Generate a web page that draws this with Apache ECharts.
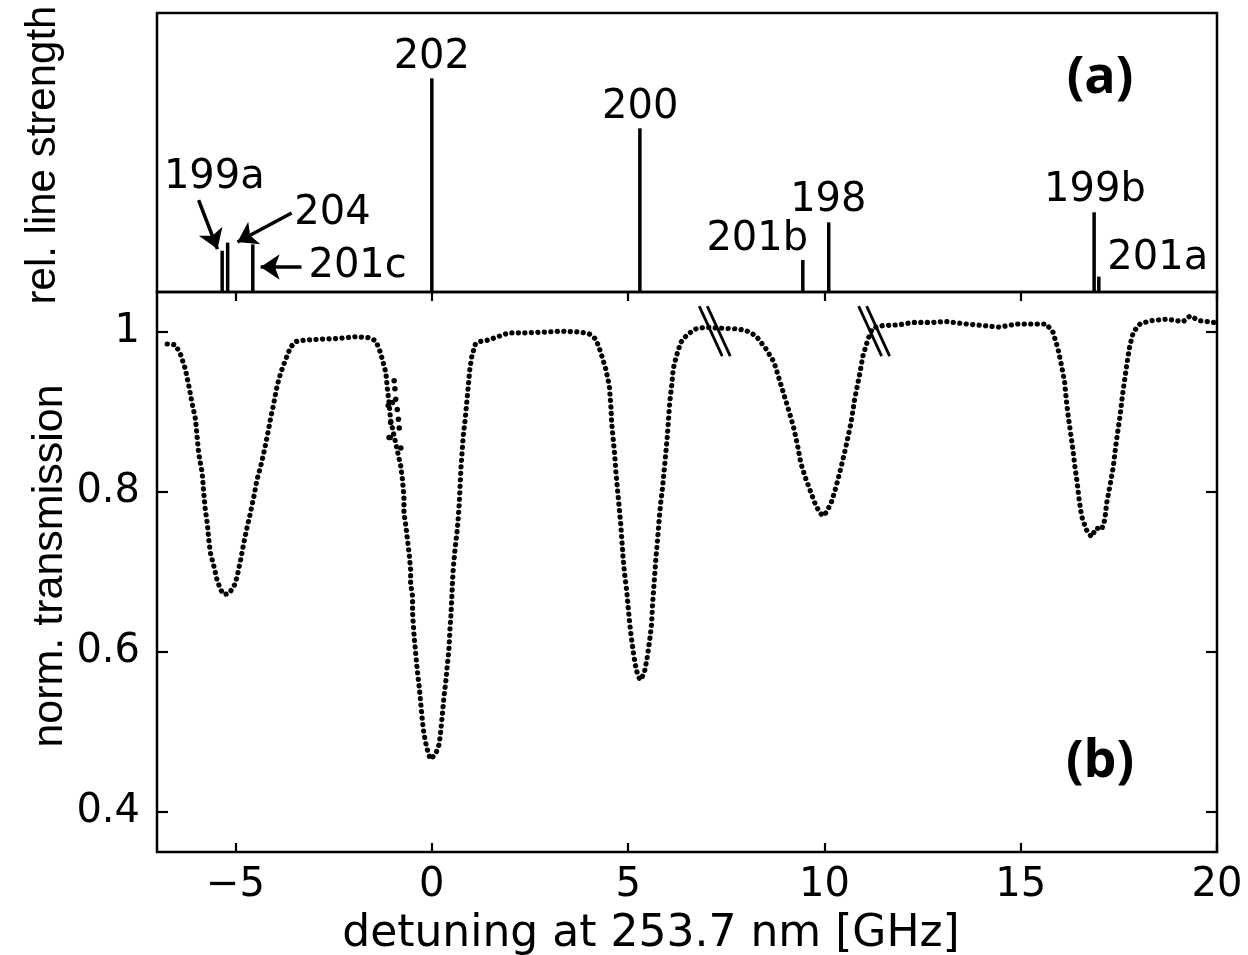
<!DOCTYPE html>
<html>
<head>
<meta charset="utf-8">
<script src="https://cdn.jsdelivr.net/npm/echarts@6/dist/echarts.min.js"></script>
<style>
html,body{margin:0;padding:0;background:#fff;}
#c{width:1248px;height:955px;}
</style>
</head>
<body>
<div id="c"></div>
<script>
// ---- panel (a): isotope line positions and relative strengths ----
const isotopes     = ['199a','204','201c','202','200','201b','198','199b','201a'];
const lineShift    = [-5.34, -5.20, -4.56, 0.00, 5.30, 9.45, 10.11, 16.87, 16.99];
const lineStrength = [0.193, 0.231, 0.223, 1.000, 0.766, 0.150, 0.326, 0.373, 0.072];

// ---- panel (b): normalized transmission vs detuning (GHz) ----
const transX = [
-6.74,-6.53,-6.40,-6.28,-6.19,-6.11,-6.02,-5.98,-5.94,-5.85,-5.81,-5.77,-5.72,-5.68,-5.64,-5.55,-5.47,-5.38,-5.30,-5.17,
-5.04,-4.96,-4.87,-4.79,-4.70,-4.62,-4.53,-4.45,-4.36,-4.28,-4.19,-4.11,-4.02,-3.94,-3.85,-3.72,-3.60,-3.47,-3.21,-2.79,
-2.37,-1.94,-1.60,-1.43,-1.34,-1.26,-1.17,-1.13,-1.09,-1.05,-0.79,-0.75,-0.71,-0.71,-0.66,-0.62,-0.58,-0.54,-0.54,-0.49,
-0.49,-0.45,-0.41,-0.37,-0.32,-0.28,-0.24,-0.20,-0.15,-0.09,-0.03,0.10,0.19,0.23,0.27,0.31,0.36,0.40,0.44,0.46,
0.49,0.51,0.53,0.55,0.59,0.64,0.67,0.70,0.72,0.74,0.77,0.80,0.85,0.89,0.93,0.97,1.02,1.11,1.21,1.37,
1.62,1.96,2.47,2.90,3.32,3.75,4.00,4.18,4.30,4.43,4.52,4.56,4.58,4.62,4.66,4.69,4.73,4.77,4.81,4.84,
4.87,4.91,4.96,5.00,5.04,5.09,5.15,5.21,5.30,5.41,5.49,5.55,5.60,5.62,5.65,5.68,5.71,5.75,5.79,5.83,
5.88,5.92,5.96,6.00,6.03,6.06,6.11,6.15,6.23,6.34,6.51,6.73,6.98,7.24,7.75,8.00,8.26,8.51,8.72,8.85,
8.98,9.11,9.23,9.32,9.40,9.53,9.66,9.79,9.95,10.04,10.17,10.30,10.43,10.55,10.68,10.77,10.89,10.98,11.11,11.23,
11.49,11.91,12.25,12.76,13.10,13.61,14.04,14.46,14.89,15.31,15.65,15.82,15.95,16.04,16.12,16.16,16.21,16.27,16.33,16.38,
16.44,16.49,16.55,16.67,16.80,16.93,17.06,17.14,17.19,17.27,17.36,17.42,17.48,17.54,17.59,17.65,17.71,17.78,17.87,18.04,
18.29,18.72,19.14,19.31,19.57,19.91,19.98
];
const transY = [
0.985,0.984,0.972,0.954,0.933,0.912,0.891,0.870,0.849,0.824,0.799,0.778,0.761,0.740,0.724,0.707,0.690,0.678,0.672,0.673,
0.682,0.694,0.715,0.736,0.757,0.774,0.795,0.816,0.832,0.849,0.870,0.891,0.912,0.933,0.949,0.966,0.981,0.988,0.990,0.991,
0.992,0.994,0.993,0.989,0.979,0.966,0.949,0.928,0.912,0.890,0.832,0.816,0.795,0.774,0.757,0.740,0.724,0.703,0.686,0.669,
0.648,0.619,0.598,0.577,0.556,0.535,0.514,0.498,0.485,0.473,0.466,0.473,0.485,0.502,0.523,0.544,0.565,0.586,0.606,0.627,
0.648,0.669,0.690,0.707,0.728,0.749,0.765,0.786,0.807,0.828,0.849,0.870,0.891,0.912,0.933,0.954,0.970,0.985,0.988,0.989,
0.993,0.999,0.999,1.000,1.001,1.000,0.998,0.991,0.975,0.954,0.933,0.908,0.887,0.866,0.845,0.824,0.803,0.782,0.761,0.740,
0.719,0.698,0.678,0.657,0.636,0.615,0.594,0.577,0.565,0.573,0.594,0.615,0.636,0.657,0.678,0.698,0.719,0.740,0.765,0.786,
0.807,0.828,0.849,0.870,0.891,0.912,0.933,0.954,0.970,0.987,0.997,1.004,1.006,1.005,1.004,1.002,0.995,0.979,0.962,0.941,
0.920,0.899,0.878,0.857,0.836,0.816,0.799,0.782,0.770,0.774,0.786,0.807,0.832,0.857,0.887,0.916,0.945,0.970,0.991,1.005,
1.008,1.009,1.012,1.012,1.013,1.010,1.008,1.006,1.010,1.010,1.010,1.000,0.979,0.958,0.937,0.916,0.895,0.874,0.853,0.832,
0.811,0.790,0.770,0.753,0.744,0.755,0.753,0.765,0.786,0.807,0.832,0.857,0.878,0.899,0.920,0.941,0.962,0.983,1.000,1.010,
1.014,1.016,1.013,1.020,1.014,1.012,1.012
];
// scattered off-branch points on the left flank of the 202 dip
const strayX = [-1.11,-1.09,-1.06,-1.05,-1.00,-0.96,-0.94,-0.92,-0.88,-0.85,-0.83,-0.79];
const strayY = [0.908,0.868,0.868,0.887,0.912,0.939,0.929,0.916,0.903,0.891,0.880,0.855];

// axis ticks
const xTicks = [-5, 0, 5, 10, 15, 20];
const yTicks = [0.4, 0.6, 0.8, 1];
// break marks on the transmission curve
const breakX = [7.27, 11.33];
const breakY = [1.001, 1.001];

// ---- annotation layout (panel a, in data units) ----
const labelAnchor = {
  '199a':[-5.54,0.533], '204':[-2.53,0.365], '201c':[-1.89,0.117], '202':[0,1.095],
  '200':[5.31,0.863], '201b':[8.29,0.243], '198':[10.10,0.426], '199b':[16.89,0.473], '201a':[18.49,0.154]
};
const arrows = [
  [[-5.94,0.430],[-5.46,0.201]],
  [[-3.57,0.370],[-4.95,0.234]],
  [[-3.32,0.117],[-4.36,0.117]]
];

const FONT = 'DejaVu Sans';
const chart = echarts.init(document.getElementById('c'), null, {renderer:'canvas'});
const minus = v => (v < 0 ? '\u2212' + Math.abs(v) : String(v));
const tickStyle = {color:'#000', width:2.2};

const option = {
  animation:false,
  backgroundColor:'#fff',
  grid:[
    {left:157, top:13, width:1060, height:279, show:true, borderColor:'#000', borderWidth:2.5, backgroundColor:'transparent'},
    {left:157, top:292, width:1060, height:560, show:true, borderColor:'#000', borderWidth:2.5, backgroundColor:'transparent'}
  ],
  xAxis:[
    {gridIndex:0, type:'value', min:-7, max:20, axisLine:{show:false, onZero:false}, axisTick:{show:false}, axisLabel:{show:false}, splitLine:{show:false}},
    {gridIndex:1, type:'value', min:-7, max:20, position:'bottom',
      axisLine:{show:false, onZero:false}, splitLine:{show:false},
      axisTick:{show:true, inside:true, length:9, lineStyle:tickStyle, customValues:xTicks},
      axisLabel:{show:true, customValues:xTicks, formatter:minus, color:'#000', fontFamily:FONT, fontSize:40, margin:14}},
    {gridIndex:1, type:'value', min:-7, max:20, position:'top',
      axisLine:{show:false, onZero:false}, splitLine:{show:false}, axisLabel:{show:false},
      axisTick:{show:true, inside:true, length:9, lineStyle:tickStyle, customValues:xTicks}}
  ],
  yAxis:[
    {gridIndex:0, type:'value', min:0, max:1.3056, axisLine:{show:false, onZero:false}, axisTick:{show:false}, axisLabel:{show:false}, splitLine:{show:false}},
    {gridIndex:1, type:'value', min:0.35, max:1.05, position:'left',
      axisLine:{show:false, onZero:false}, splitLine:{show:false},
      axisTick:{show:true, inside:true, length:11, lineStyle:tickStyle, customValues:yTicks},
      axisLabel:{show:true, customValues:yTicks, color:'#000', fontFamily:FONT, fontSize:40, margin:17}},
    {gridIndex:1, type:'value', min:0.35, max:1.05, position:'right',
      axisLine:{show:false, onZero:false}, splitLine:{show:false}, axisLabel:{show:false},
      axisTick:{show:true, inside:true, length:11, lineStyle:tickStyle, customValues:yTicks}}
  ],
  series:[
    {type:'bar', xAxisIndex:0, yAxisIndex:0, barWidth:3.5,
      itemStyle:{color:'#000', opacity:1},
      data: lineShift.map((x,i)=>[x, lineStrength[i]])},
    {type:'scatter', xAxisIndex:0, yAxisIndex:0, symbolSize:1,
      itemStyle:{color:'rgba(0,0,0,0)', opacity:1},
      label:{show:true, position:'inside', formatter:p=>p.name, color:'#000', opacity:1, fontFamily:FONT, fontSize:40},
      data: isotopes.map(n=>({name:n, value:labelAnchor[n]}))},
    {type:'lines', coordinateSystem:'cartesian2d', xAxisIndex:0, yAxisIndex:0,
      symbol:['none','arrow'], symbolSize:19,
      lineStyle:{color:'#000', width:3.5, opacity:1},
      data: arrows.map(c=>({coords:c}))},
    {type:'line', xAxisIndex:1, yAxisIndex:1, showSymbol:false, smooth:false,
      lineStyle:{color:'#000', width:5.2, opacity:1, type:[0.1,6.4], cap:'round', join:'round'},
      data: transX.map((x,i)=>[x, transY[i]])},
    {type:'scatter', xAxisIndex:1, yAxisIndex:1, symbolSize:5.5,
      itemStyle:{color:'#000', opacity:1},
      data: strayX.map((x,i)=>[x, strayY[i]])},
    {type:'custom', xAxisIndex:1, yAxisIndex:1,
      data: breakX.map((x,i)=>[x, breakY[i]]),
      renderItem:(params, api)=>{
        const p = api.coord([api.value(0), api.value(1)]);
        const mk = off => ({type:'line', shape:{x1:p[0]-14+off, y1:p[1]-25, x2:p[0]+9+off, y2:p[1]+25},
                            style:{stroke:'#000', lineWidth:2.8}});
        return {type:'group', children:[mk(-4), mk(4)]};
      }}
  ],
  graphic:[
    {type:'text', x:651, y:935, style:{text:'detuning at 253.7 nm [GHz]', fontFamily:FONT, fontSize:44, fill:'#000', textAlign:'center', textVerticalAlign:'middle'}},
    {type:'text', x:50, y:566, rotation:Math.PI/2, style:{text:'norm. transmission', fontFamily:'Liberation Sans', fontSize:43, fill:'#000', textAlign:'center', textVerticalAlign:'middle'}},
    {type:'text', x:43, y:155, rotation:Math.PI/2, style:{text:'rel. line strength', fontFamily:'Liberation Sans', fontSize:42, fill:'#000', textAlign:'center', textVerticalAlign:'middle'}},
    {type:'text', x:1100, y:78, style:{text:'(a)', fontFamily:'Open Sans', fontWeight:'bold', fontSize:52, fill:'#000', textAlign:'center', textVerticalAlign:'middle'}},
    {type:'text', x:1100, y:762, style:{text:'(b)', fontFamily:'Open Sans', fontWeight:'bold', fontSize:52, fill:'#000', textAlign:'center', textVerticalAlign:'middle'}}
  ]
};
chart.setOption(option);
</script>
</body>
</html>
